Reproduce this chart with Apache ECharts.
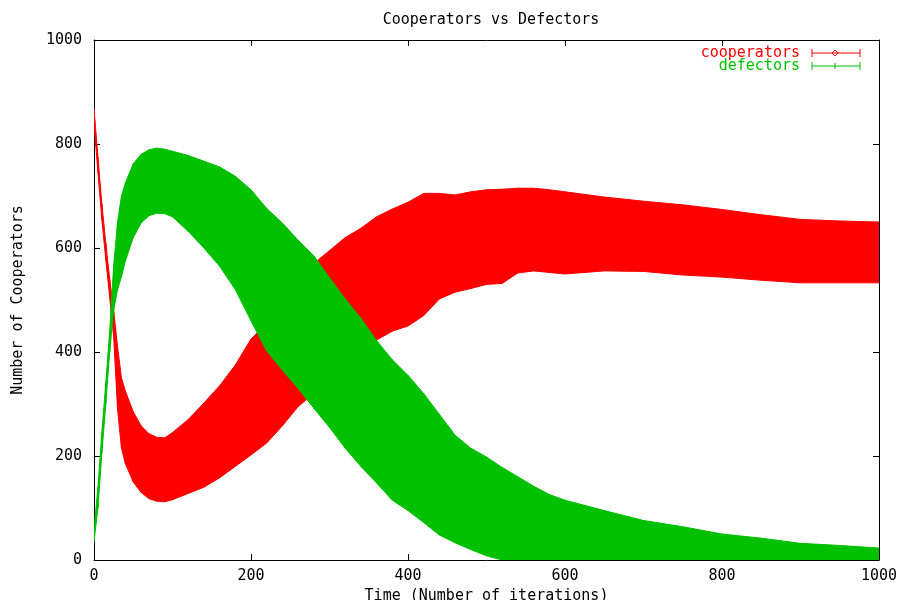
<!DOCTYPE html>
<html><head><meta charset="utf-8">
<script src="https://cdn.jsdelivr.net/npm/echarts@6/dist/echarts.min.js"></script>
<style>html,body{margin:0;padding:0;background:#fff}#c{width:901px;height:600px}</style>
</head><body><div id="c"></div><script>
const chartTitle = 'Cooperators vs Defectors';
const xName = 'Time (Number of iterations)';
const yName = 'Number of Cooperators';
const seriesNames = ['cooperators', 'defectors'];
const times = [0,5,10,15,20,25,30,35,40,50,60,70,80,90,100,120,140,160,180,200,220,240,260,280,300,320,340,360,380,400,420,440,460,480,500,520,540,560,580,600,650,700,750,800,850,900,950,1000];
const coopLow  = [840,745,655,578,505,430,290,215,185,150,130,118,113,112,116,128,140,158,180,202,225,258,295,320,345,370,395,423,440,450,470,502,515,522,530,532,552,556,553,550,556,555,548,544,538,533,533,533];
const coopHigh = [868,775,685,610,540,480,410,350,325,285,258,243,236,235,245,270,302,335,375,425,455,495,535,570,595,620,638,660,675,688,705,705,702,708,712,713,715,715,712,708,698,690,683,674,664,655,652,650];
const defLow   = [35,100,205,300,400,480,520,545,575,620,648,662,667,666,660,632,600,565,520,460,402,365,330,292,255,215,180,148,115,95,72,48,33,20,8,0,0,0,0,0,0,0,0,0,0,0,0,0];
const defHigh  = [58,140,245,340,440,565,650,700,725,762,780,789,792,790,786,778,767,756,738,712,676,648,615,585,543,502,465,422,385,355,320,280,240,215,198,178,160,142,126,115,95,76,64,50,42,32,28,23];

const RED = '#ff0000', GREEN = '#00c000';
const FONT = 'DejaVu Sans Mono';
const FS = 15;

function bandData(lo, hi) {
  const d = [];
  for (let i = 0; i < times.length - 1; i++) {
    d.push([times[i], lo[i], hi[i], times[i+1], lo[i+1], hi[i+1]]);
  }
  return d;
}
function bandRender(color) {
  return function (params, api) {
    const p1 = api.coord([api.value(0), api.value(1)]);
    const p2 = api.coord([api.value(3), api.value(4)]);
    const p3 = api.coord([api.value(3), api.value(5)]);
    const p4 = api.coord([api.value(0), api.value(2)]);
    return {type: 'polygon', shape: {points: [p1, p2, p3, p4]},
      style: {fill: color, stroke: color, lineWidth: 1}};
  };
}

const chart = echarts.init(document.getElementById('c'), null, {renderer: 'canvas'});
function axisCommon(extra) {
  return Object.assign({
    type: 'value', min: 0, max: 1000, interval: 200,
    axisLine: {show: true, onZero: false, lineStyle: {color: '#000', width: 1}},
    axisTick: {show: true, inside: true, length: 6, lineStyle: {color: '#000'}},
    splitLine: {show: false}
  }, extra);
}
chart.setOption({
  animation: false,
  backgroundColor: '#fff',
  title: {text: chartTitle, left: 486, top: 8, textAlign: 'center',
    textStyle: {fontFamily: FONT, fontSize: FS, fontWeight: 'normal', color: '#000'}},
  grid: {left: 94, right: 22, top: 40, bottom: 40, containLabel: false, outerBoundsMode: 'none'},
  xAxis: [
    axisCommon({position: 'bottom',
      axisLabel: {show: true, fontFamily: FONT, fontSize: FS, color: '#000', margin: 9,
        formatter: v => String(v)},
      name: xName, nameLocation: 'middle', nameGap: 27,
      nameTextStyle: {fontFamily: FONT, fontSize: FS, color: '#000'}}),
    axisCommon({position: 'top', axisLabel: {show: false}})
  ],
  yAxis: [
    axisCommon({position: 'left',
      axisLabel: {show: true, fontFamily: FONT, fontSize: FS, color: '#000', margin: 12,
        formatter: v => String(v)},
      name: yName, nameLocation: 'middle', nameGap: 68,
      nameTextStyle: {fontFamily: FONT, fontSize: FS, color: '#000'}}),
    axisCommon({position: 'right', axisLabel: {show: false}})
  ],
  series: [
    {type: 'custom', name: seriesNames[0], xAxisIndex: 0, yAxisIndex: 0, clip: true,
      renderItem: bandRender(RED), encode: {x: [0, 3], y: [1, 2, 4, 5]},
      data: bandData(coopLow, coopHigh)},
    {type: 'custom', name: seriesNames[1], xAxisIndex: 0, yAxisIndex: 0, clip: true,
      renderItem: bandRender(GREEN), encode: {x: [0, 3], y: [1, 2, 4, 5]},
      data: bandData(defLow, defHigh)}
  ],
  graphic: [
    {type: 'text', x: 800, y: 53, style: {text: seriesNames[0], fill: RED, font: FS + 'px ' + FONT, align: 'right', verticalAlign: 'middle'}},
    {type: 'line', shape: {x1: 812, y1: 53, x2: 860, y2: 53}, style: {stroke: RED, lineWidth: 1}},
    {type: 'line', shape: {x1: 812, y1: 49, x2: 812, y2: 57}, style: {stroke: RED, lineWidth: 1}},
    {type: 'line', shape: {x1: 860, y1: 49, x2: 860, y2: 57}, style: {stroke: RED, lineWidth: 1}},
    {type: 'polygon', shape: {points: [[835, 50], [838, 53], [835, 56], [832, 53]]}, style: {fill: 'none', stroke: RED, lineWidth: 1}},
    {type: 'text', x: 800, y: 66, style: {text: seriesNames[1], fill: GREEN, font: FS + 'px ' + FONT, align: 'right', verticalAlign: 'middle'}},
    {type: 'line', shape: {x1: 812, y1: 66, x2: 860, y2: 66}, style: {stroke: GREEN, lineWidth: 1}},
    {type: 'line', shape: {x1: 812, y1: 62, x2: 812, y2: 70}, style: {stroke: GREEN, lineWidth: 1}},
    {type: 'line', shape: {x1: 860, y1: 62, x2: 860, y2: 70}, style: {stroke: GREEN, lineWidth: 1}},
    {type: 'line', shape: {x1: 835, y1: 63, x2: 835, y2: 69}, style: {stroke: GREEN, lineWidth: 1}}
  ]
});
</script></body></html>
